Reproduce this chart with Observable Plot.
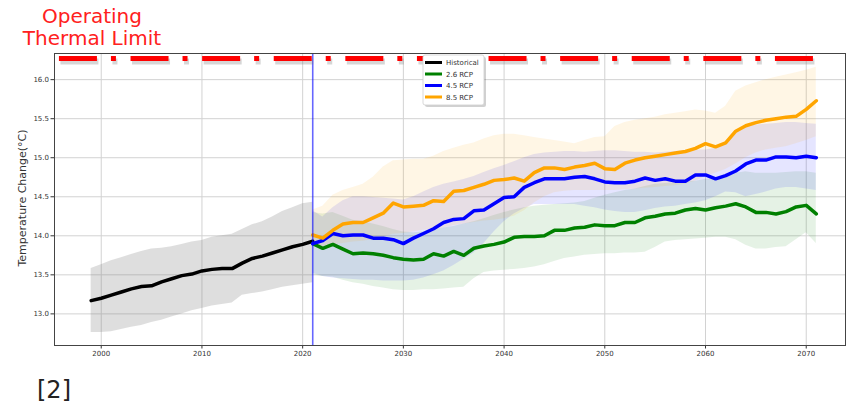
<!DOCTYPE html>
<html><head><meta charset="utf-8">
<script src="https://cdn.jsdelivr.net/npm/d3@7"></script>
<script src="https://cdn.jsdelivr.net/npm/@observablehq/plot@0.6"></script>
<style>
html,body{margin:0;padding:0;background:#fff;}
#wrap{width:848px;height:406px;overflow:hidden;}
</style></head><body><div id="wrap"></div>
<script>
// ---- data ----
const histYears = d3.range(1999, 2022);
const histMean = [13.17,13.20,13.24,13.28,13.32,13.35,13.36,13.41,13.45,13.49,13.51,13.55,13.57,13.58,13.58,13.65,13.71,13.74,13.78,13.82,13.86,13.89,13.93];
const histHigh = [13.58,13.63,13.68,13.72,13.76,13.80,13.83,13.84,13.86,13.89,13.92,13.94,13.98,14.00,14.02,14.08,14.14,14.18,14.24,14.31,14.36,14.41,14.43];
const histLow  = [12.76,12.76,12.77,12.80,12.83,12.85,12.89,12.92,12.96,13.00,13.04,13.07,13.10,13.12,13.14,13.24,13.26,13.28,13.31,13.34,13.36,13.38,13.40];

const futYears = d3.range(2021, 2072);
const rcp26 = [13.90,13.84,13.89,13.83,13.77,13.78,13.77,13.75,13.72,13.70,
               13.69,13.70,13.77,13.74,13.80,13.75,13.84,13.87,13.89,13.92,
               13.98,13.99,13.99,14.00,14.07,14.07,14.10,14.11,14.14,14.13,
               14.13,14.17,14.17,14.23,14.25,14.28,14.29,14.33,14.35,14.33,
               14.36,14.38,14.41,14.37,14.30,14.30,14.28,14.31,14.37,14.39,14.28];
const rcp26High = [14.30,14.28,14.30,14.25,14.20,14.18,14.15,14.12,14.08,14.05,
               14.04,14.05,14.08,14.10,14.12,14.15,14.18,14.22,14.26,14.30,
               14.33,14.36,14.38,14.39,14.40,14.41,14.42,14.44,14.48,14.52,
               14.55,14.58,14.60,14.63,14.66,14.67,14.68,14.69,14.70,14.72,
               14.74,14.76,14.80,14.82,14.80,14.80,14.80,14.81,14.82,14.82,14.80];
const rcp26Low = [13.50,13.48,13.47,13.43,13.40,13.38,13.35,13.33,13.31,13.30,
               13.30,13.31,13.31,13.32,13.33,13.34,13.45,13.53,13.55,13.56,
               13.57,13.58,13.60,13.63,13.67,13.71,13.73,13.75,13.76,13.77,
               13.77,13.78,13.78,13.79,13.85,13.92,13.94,13.95,13.96,13.97,
               13.98,13.98,13.95,13.88,13.83,13.83,13.85,13.86,13.95,14.04,13.90];

const rcp45 = [13.90,13.94,14.03,14.00,14.01,14.01,13.97,13.97,13.95,13.90,
               13.97,14.03,14.09,14.17,14.21,14.22,14.32,14.33,14.41,14.49,
               14.50,14.62,14.68,14.73,14.73,14.73,14.75,14.76,14.73,14.69,
               14.68,14.68,14.70,14.74,14.71,14.73,14.70,14.70,14.78,14.78,
               14.73,14.77,14.83,14.92,14.97,14.97,15.01,15.01,15.00,15.02,15.00];
const rcp45High = [14.32,14.24,14.36,14.45,14.50,14.50,14.49,14.48,14.47,14.46,
               14.50,14.56,14.62,14.66,14.69,14.72,14.76,14.81,14.86,14.90,
               14.95,15.00,15.04,15.06,15.07,15.08,15.08,15.07,15.08,15.09,
               15.09,15.08,15.07,15.07,15.06,15.07,15.08,15.09,15.10,15.10,
               15.12,15.20,15.32,15.40,15.42,15.43,15.44,15.45,15.45,15.44,15.43];
const rcp45Low = [13.52,13.48,13.46,13.45,13.44,13.43,13.43,13.42,13.42,13.42,
               13.43,13.46,13.50,13.55,13.62,13.70,13.78,13.90,14.05,14.18,
               14.28,14.35,14.40,14.40,14.40,14.40,14.40,14.38,14.36,14.33,
               14.31,14.30,14.30,14.32,14.35,14.37,14.38,14.40,14.42,14.45,
               14.50,14.56,14.55,14.50,14.53,14.56,14.60,14.62,14.62,14.60,14.58];

const rcp85 = [14.01,13.97,14.07,14.15,14.17,14.17,14.23,14.29,14.42,14.37,
               14.38,14.39,14.45,14.44,14.57,14.58,14.62,14.66,14.71,14.72,
               14.74,14.70,14.81,14.87,14.87,14.85,14.88,14.90,14.93,14.86,
               14.85,14.93,14.97,15.00,15.02,15.04,15.06,15.08,15.12,15.18,
               15.14,15.19,15.34,15.41,15.45,15.48,15.50,15.52,15.53,15.62,15.73];
const rcp85High = [14.33,14.38,14.52,14.58,14.62,14.66,14.75,14.88,14.96,14.97,
               14.98,14.98,15.02,15.08,15.12,15.16,15.19,15.24,15.28,15.30,
               15.30,15.28,15.26,15.24,15.22,15.20,15.18,15.22,15.26,15.27,
               15.40,15.45,15.48,15.50,15.52,15.55,15.57,15.59,15.61,15.60,
               15.57,15.66,15.85,15.92,15.96,16.00,16.03,16.06,16.09,16.12,16.16];
const rcp85Low = [13.88,13.86,13.88,13.90,13.92,13.93,13.95,13.98,14.02,14.03,
               14.05,14.07,14.08,14.10,14.13,14.15,14.17,14.19,14.20,14.22,
               14.25,14.32,14.42,14.50,14.55,14.57,14.58,14.58,14.58,14.58,
               14.58,14.59,14.60,14.61,14.62,14.63,14.64,14.66,14.70,14.76,
               14.80,14.85,14.92,15.00,15.06,15.10,15.12,15.14,15.18,15.22,15.27];

const seriesNames = ["Historical", "2.6 RCP", "4.5 RCP", "8.5 RCP"];
const seriesColors = ["black", "green", "blue", "orange"];
const xTicks = [2000, 2010, 2020, 2030, 2040, 2050, 2060, 2070];
const yTicks = [13.0, 13.5, 14.0, 14.5, 15.0, 15.5, 16.0];
const projectionStart = 2021;
const limitValue = 16.27;
const limitStart = 1995.85;
const limitEnd = 2070.9;
const titleLines = ["Operating", "Thermal Limit"];
const yLabel = "Temperature Change(°C)";
const refText = "[2]";

// ---- build tables ----
const hist = histYears.map((t, i) => ({year: t, mean: histMean[i], lo: histLow[i], hi: histHigh[i]}));
const futMeans = [rcp26, rcp45, rcp85], futHighs = [rcp26High, rcp45High, rcp85High], futLows = [rcp26Low, rcp45Low, rcp85Low];
const fut = futMeans.map((m, k) => futYears.map((t, i) => ({series: seriesNames[k + 1], year: t, mean: m[i], lo: futLows[k][i], hi: futHighs[k][i]})));
const limit = [{y: limitValue, x1: limitStart, x2: limitEnd}];

const marks = [
  Plot.ruleX(xTicks, {stroke: "#d2d2d2", strokeWidth: 1}),
  Plot.ruleY(yTicks, {stroke: "#d2d2d2", strokeWidth: 1}),
  Plot.areaY(hist, {x: "year", y1: "lo", y2: "hi", fill: "#808080", fillOpacity: 0.26}),
  ...fut.map((d, k) => Plot.areaY(d, {x: "year", y1: "lo", y2: "hi", fill: seriesColors[k + 1], fillOpacity: 0.1})),
  Plot.lineY(hist, {x: "year", y: "mean", stroke: seriesColors[0], strokeWidth: 3.5}),
  ...fut.map((d, k) => Plot.lineY(d, {x: "year", y: "mean", stroke: seriesColors[k + 1], strokeWidth: 3.5})),
  Plot.ruleX([projectionStart], {stroke: "blue", strokeOpacity: 0.6, strokeWidth: 1.6}),
  Plot.ruleY(limit, {y: "y", x1: "x1", x2: "x2", stroke: "#777", strokeOpacity: 0.3, strokeWidth: 6, dx: 1.5, dy: 3, strokeDasharray: "38,14,5,14.6", ariaLabel: "limit-shadow"}),
  Plot.ruleY(limit, {y: "y", x1: "x1", x2: "x2", stroke: "red", strokeWidth: 5, strokeDasharray: "38,14,5,14.6", ariaLabel: "limit"}),
  Plot.frame({stroke: "#444", strokeWidth: 1})
];

const chart = Plot.plot({
  width: 848, height: 406,
  marginLeft: 54, marginRight: 3, marginTop: 53, marginBottom: 61,
  style: {fontFamily: "DejaVu Sans, sans-serif", fontSize: "7px", color: "#333", background: "white"},
  x: {domain: [1995.36, 2073.9], ticks: xTicks, tickFormat: d => String(d), label: null, tickSize: 3.5, tickPadding: 2.5},
  y: {domain: [12.595, 16.335], ticks: yTicks, tickFormat: d => d.toFixed(1), label: null, tickSize: 3.5, tickPadding: 2},
  marks
});
document.getElementById("wrap").appendChild(chart);

// ---- annotations & legend ----
const svg = d3.select(chart);
const font = "DejaVu Sans, sans-serif";
svg.append("text").attr("x", 92).attr("y", 22.7).attr("text-anchor", "middle")
  .attr("font-family", font).attr("font-size", 20).attr("fill", "#ff2020").text(titleLines[0]);
svg.append("text").attr("x", 92).attr("y", 45).attr("text-anchor", "middle")
  .attr("font-family", font).attr("font-size", 20).attr("fill", "#ff2020").text(titleLines[1]);
svg.append("text").attr("transform", "translate(25.5,198) rotate(-90)").attr("text-anchor", "middle")
  .attr("font-family", font).attr("font-size", 11).attr("fill", "#333").text(yLabel);
svg.append("text").attr("x", 37).attr("y", 398).attr("text-anchor", "start")
  .attr("font-family", font).attr("font-size", 24).attr("fill", "#222").text(refText);

const lg = svg.append("g").attr("font-family", font).attr("font-size", 7).attr("text-anchor", "start");
lg.append("rect").attr("x", 425).attr("y", 57).attr("width", 61).attr("height", 50).attr("rx", 2)
  .attr("fill", "#000").attr("fill-opacity", 0.18);
lg.append("rect").attr("x", 423).attr("y", 55).attr("width", 61).attr("height", 50).attr("rx", 2)
  .attr("fill", "white").attr("stroke", "#cfcfcf").attr("stroke-width", 0.8);
const rowsY = [62.5, 74, 85.5, 97];
seriesNames.forEach((name, i) => {
  lg.append("line").attr("x1", 425).attr("x2", 442).attr("y1", rowsY[i]).attr("y2", rowsY[i])
    .attr("stroke", seriesColors[i]).attr("stroke-width", 3);
  lg.append("text").attr("x", 446).attr("y", rowsY[i] + 2.5).attr("text-anchor", "start").attr("fill", "#333").text(name);
});
// keep the thermal-limit line above the legend
const node = chart.tagName.toLowerCase() === "svg" ? chart : chart.querySelector("svg");
["limit-shadow", "limit"].forEach(l => {
  const g = node.querySelector(`[aria-label="${l}"]`);
  if (g) node.appendChild(g);
});
</script>
</body></html>
